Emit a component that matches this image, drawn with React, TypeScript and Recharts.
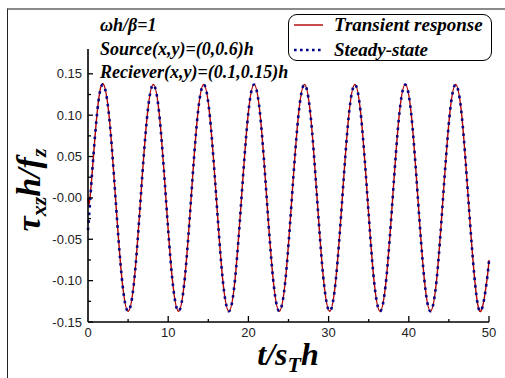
import React from "react";
import { LineChart, Line, XAxis, YAxis } from "recharts";

// t / (s_T h)
const time = [
  0, 0.29, 1.08, 1.86, 2.65, 3.43, 4.22, 5.0, 5.79, 6.57, 7.36, 8.14, 8.93, 9.71,
  10.5, 11.29, 12.07, 12.86, 13.64, 14.43, 15.21, 16.0, 16.78, 17.57, 18.35, 19.14,
  19.93, 20.71, 21.5, 22.28, 23.07, 23.85, 24.64, 25.42, 26.21, 26.99, 27.78, 28.56,
  29.35, 30.14, 30.92, 31.71, 32.49, 33.28, 34.06, 34.85, 35.63, 36.42, 37.2, 37.99,
  38.77, 39.56, 40.35, 41.13, 41.92, 42.7, 43.49, 44.27, 45.06, 45.84, 46.63, 47.41,
  48.2, 48.98, 49.77, 50
];

const transientResponse = [
  0, 0.004, 0.097, 0.138, 0.097, 0, -0.097, -0.137, -0.097, 0, 0.097, 0.137, 0.097, 0,
  -0.097, -0.137, -0.097, 0, 0.097, 0.137, 0.097, 0, -0.097, -0.137, -0.097, 0,
  0.097, 0.137, 0.097, 0, -0.097, -0.137, -0.097, 0, 0.097, 0.137, 0.097, 0,
  -0.097, -0.137, -0.097, 0, 0.097, 0.137, 0.097, 0, -0.097, -0.137, -0.097, 0,
  0.097, 0.137, 0.097, 0, -0.097, -0.137, -0.097, 0, 0.097, 0.137, 0.097, 0,
  -0.097, -0.137, -0.097, -0.075
];

const steadyState = [
  -0.039, 0, 0.097, 0.137, 0.097, 0, -0.097, -0.137, -0.097, 0, 0.097, 0.137, 0.097, 0,
  -0.097, -0.137, -0.097, 0, 0.097, 0.137, 0.097, 0, -0.097, -0.137, -0.097, 0,
  0.097, 0.137, 0.097, 0, -0.097, -0.137, -0.097, 0, 0.097, 0.137, 0.097, 0,
  -0.097, -0.137, -0.097, 0, 0.097, 0.137, 0.097, 0, -0.097, -0.137, -0.097, 0,
  0.097, 0.137, 0.097, 0, -0.097, -0.137, -0.097, 0, 0.097, 0.137, 0.097, 0,
  -0.097, -0.137, -0.097, -0.075
];

const xTicks = [0, 5, 10, 15, 20, 25, 30, 35, 40, 45, 50];
const xTickLabels = ["0", "", "10", "", "20", "", "30", "", "40", "", "50"];
const yTicks = [-0.15, -0.125, -0.1, -0.075, -0.05, -0.025, 0, 0.025, 0.05, 0.075, 0.1, 0.125, 0.15];
const yTickLabels = ["-0.15", "", "-0.10", "", "-0.05", "", "-0.00", "", "0.05", "", "0.10", "", "0.15"];

const data = time.map((t, i) => ({
  t,
  transient: transientResponse[i],
  steady: steadyState[i]
}));

const tickFont = "'Liberation Sans', Arial, sans-serif";
const serif = "'Liberation Serif', 'Times New Roman', serif";

function XTick({ x, y, payload }: any) {
  const i = xTicks.findIndex((v) => Math.abs(v - payload.value) < 1e-6);
  const label = i >= 0 ? xTickLabels[i] : "";
  const axisY = y - 6;
  return (
    <g>
      {payload.value !== 0 && (
        <line x1={x} x2={x} y1={axisY} y2={axisY - (label ? 6 : 3)} stroke="#000" strokeWidth={1.3} />
      )}
      {label && (
        <text x={x} y={y} dy="0.71em" textAnchor="middle" fontSize={13} fontFamily={tickFont} fill="#222">
          {label}
        </text>
      )}
    </g>
  );
}

function YTick({ x, y, payload }: any) {
  const i = yTicks.findIndex((v) => Math.abs(v - payload.value) < 1e-6);
  const label = i >= 0 ? yTickLabels[i] : "";
  const axisX = x + 6;
  return (
    <g>
      <line x1={axisX} x2={axisX + (label ? 5 : 3)} y1={y} y2={y} stroke="#000" strokeWidth={1.3} />
      {label && (
        <text x={x} y={y} dy="0.35em" textAnchor="end" fontSize={13} fontFamily={tickFont} fill="#222">
          {label}
        </text>
      )}
    </g>
  );
}

export default function App() {
  return (
    <div style={{ position: "fixed", left: 0, top: 0, width: 505, height: 378, background: "#fff", overflow: "hidden" }}>
      <div
        style={{
          position: "absolute",
          left: 7,
          top: 8,
          width: 505,
          height: 378,
          borderTop: "2px solid #8a8a8a",
          borderLeft: "1.5px solid #222"
        }}
      />
      <div style={{ position: "absolute", left: 0, top: 0 }}>
        <LineChart width={505} height={378} data={data} margin={{ top: 49, right: 16, bottom: 0, left: 0 }}>
          <XAxis
            dataKey="t"
            type="number"
            domain={[0, 50]}
            ticks={xTicks}
            interval={0}
            height={56}
            tickSize={0}
            tickMargin={6}
            tickLine={false}
            tick={<XTick />}
            axisLine={{ stroke: "#000", strokeWidth: 1.6 }}
          />
          <YAxis
            type="number"
            domain={[-0.15, 0.18]}
            allowDataOverflow
            ticks={yTicks}
            interval={0}
            width={88}
            tickSize={0}
            tickMargin={6}
            tickLine={false}
            tick={<YTick />}
            axisLine={{ stroke: "#000", strokeWidth: 1.6 }}
          />
          <Line
            type="natural"
            dataKey="transient"
            stroke="#b00000"
            strokeWidth={1.4}
            dot={false}
            isAnimationActive={false}
          />
          <Line
            type="natural"
            dataKey="steady"
            stroke="#00008b"
            strokeWidth={2.6}
            strokeDasharray="2.6 5"
            dot={false}
            isAnimationActive={false}
          />
        </LineChart>
      </div>
      <svg width={505} height={378} style={{ position: "absolute", left: 0, top: 0, pointerEvents: "none" }}>
        <g fontFamily={serif} fontWeight="bold" fontStyle="italic" fontSize={18} fill="#000">
          <text x={100} y={31}>ωh/β=1</text>
          <text x={100} y={55}>Source(x,y)=(0,0.6)h</text>
          <text x={100} y={78}>Reciever(x,y)=(0.1,0.15)h</text>
        </g>
        <text
          x={40}
          y={190}
          transform="rotate(-90 40 190)"
          textAnchor="middle"
          fontFamily={serif}
          fontWeight="bold"
          fontStyle="italic"
          fontSize={34}
          fill="#000"
        >
          τ<tspan fontSize={22} dy={6}>xz</tspan>
          <tspan dy={-6}>h/f</tspan>
          <tspan fontSize={22} dy={6}>z</tspan>
        </text>
        <text x={288} y={365} textAnchor="middle" fontFamily={serif} fontWeight="bold" fontStyle="italic" fontSize={32} fill="#000">
          t/s<tspan fontSize={22} dy={7}>T</tspan>
          <tspan dy={-7}>h</tspan>
        </text>
      </svg>
      <div
        style={{
          position: "absolute",
          left: 288,
          top: 14,
          width: 204,
          height: 47,
          boxSizing: "border-box",
          border: "1.2px solid #000",
          borderRadius: 9,
          background: "#fff"
        }}
      >
        <svg width={204} height={52} style={{ position: "absolute", left: -1, top: -1, overflow: "visible" }}>
          <line x1={6} x2={35} y1={11} y2={11} stroke="#b00000" strokeWidth={1.4} />
          <line x1={6} x2={35} y1={36} y2={36} stroke="#00008b" strokeWidth={2.6} strokeDasharray="2.6 3.4" />
          <g fontFamily={serif} fontWeight="bold" fontStyle="italic" fontSize={19} fill="#000">
            <text x={46} y={17}>Transient response</text>
            <text x={46} y={42}>Steady-state</text>
          </g>
        </svg>
      </div>
    </div>
  );
}
